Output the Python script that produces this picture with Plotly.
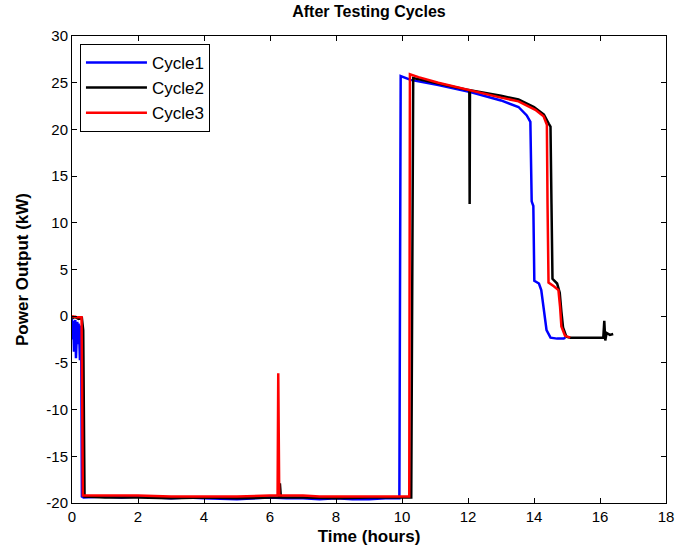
import plotly.graph_objects as go

# Cycle1 (blue)
t1 = [0.0, 0.02, 0.04, 0.06, 0.08, 0.10, 0.12, 0.14, 0.16, 0.18, 0.20, 0.22, 0.24, 0.26, 0.28, 0.30,
      0.35, 1.0, 1.5, 2.0, 2.5, 3.0, 3.5, 4.0, 5.0, 5.5, 6.0, 6.5, 7.0, 7.5, 8.0, 8.5, 9.0, 9.5, 9.92,
      9.96, 10.26, 11.1, 12.07, 13.0, 13.53, 13.78, 13.89, 13.93, 13.98, 14.01, 14.15, 14.22, 14.29,
      14.38, 14.5, 14.7, 14.9, 14.95]
p1 = [-0.3, -2.5, -0.5, -3.8, -1.0, -0.4, -4.5, -1.5, -0.6, -3.0, -0.8, -2.2, -4.7, -1.0, -3.5, -19.3,
      -19.4, -19.3, -19.4, -19.3, -19.4, -19.5, -19.4, -19.5, -19.6, -19.5, -19.4, -19.5, -19.5, -19.6, -19.5, -19.6, -19.6, -19.5, -19.5,
      25.7, 25.3, 24.75, 24.0, 23.1, 22.4, 21.5, 20.8, 12.3, 11.8, 3.8, 3.5, 2.8, 0.7,
      -1.5, -2.3, -2.4, -2.4, -2.3]

# Cycle2 (black)
t2 = [0.0, 0.1, 0.2, 0.3, 0.34, 0.38, 1.0, 2.0, 3.0, 4.0, 5.0, 6.0, 6.27, 6.30, 6.33, 7.0, 8.0, 9.0, 10.0, 10.28,
      10.34, 11.0, 12.0, 12.04, 12.05, 12.06, 13.0, 13.53, 14.0, 14.3, 14.45, 14.5, 14.53, 14.56,
      14.7, 14.78, 14.83, 14.88, 14.98, 15.1, 16.1, 16.13, 16.16, 16.2, 16.3, 16.4]
p2 = [-0.2, -0.1, -0.3, -0.2, -1.5, -19.3, -19.4, -19.4, -19.5, -19.4, -19.5, -19.4, -19.4, -17.9, -19.4, -19.4, -19.5, -19.4, -19.4, -19.4,
      25.5, 25.0, 24.3, 24.2, 12.0, 24.2, 23.6, 23.2, 22.4, 21.6, 20.6, 20.3, 12.0, 4.0,
      3.5, 2.5, 0.5, -1.2, -2.2, -2.3, -2.3, -0.5, -2.6, -1.8, -2.0, -1.9]

# Cycle3 (red)
t3 = [0.0, 0.15, 0.29, 0.31, 0.33, 1.0, 2.0, 3.0, 4.0, 5.0, 6.0, 6.23, 6.25, 6.28, 7.0, 7.5, 8.0, 9.0, 10.22,
      10.24, 10.5, 11.1, 12.02, 13.0, 13.53, 14.04, 14.29, 14.39, 14.41, 14.44, 14.6, 14.74, 14.79,
      14.83, 14.94, 15.1]
p3 = [0.0, -0.1, -0.1, -10.0, -19.2, -19.2, -19.2, -19.3, -19.3, -19.3, -19.2, -19.2, -6.1, -19.2, -19.2, -19.3, -19.3, -19.3, -19.3,
      25.9, 25.6, 25.0, 24.2, 23.4, 23.0, 22.1, 21.4, 20.5, 12.0, 3.6, 3.2, 2.8, 1.0,
      -1.1, -2.1, -2.3]

x_ticks = [0, 2, 4, 6, 8, 10, 12, 14, 16, 18]
y_ticks = [-20, -15, -10, -5, 0, 5, 10, 15, 20, 25, 30]

FONT = "Liberation Sans, Arial, sans-serif"

fig = go.Figure()
fig.add_trace(go.Scatter(x=t1, y=p1, mode="lines", name="Cycle1", line=dict(color="#0000ff", width=2.5)))
fig.add_trace(go.Scatter(x=t2, y=p2, mode="lines", name="Cycle2", line=dict(color="#000000", width=2.5)))
fig.add_trace(go.Scatter(x=t3, y=p3, mode="lines", name="Cycle3", line=dict(color="#ff0000", width=2.5)))

axis_common = dict(showgrid=False, zeroline=False, showline=True, linecolor="black", linewidth=1,
                   mirror="allticks", ticks="inside", ticklen=5, tickcolor="black",
                   ticklabeloverflow="allow", automargin=False,
                   tickfont=dict(family=FONT, size=15, color="black"))

fig.update_layout(
    width=675, height=554,
    margin=dict(l=72, r=9, t=36, b=51),
    plot_bgcolor="white", paper_bgcolor="white",
    title=dict(text="<b>After Testing Cycles</b>", x=0.5, xanchor="center", y=0.99, yanchor="top",
               xref="paper", font=dict(family=FONT, size=16, color="black")),
    xaxis=dict(range=[0, 18], tickvals=x_ticks, ticktext=[str(v) for v in x_ticks],
               title=dict(text="<b>Time (hours)</b>", font=dict(family=FONT, size=17, color="black"), standoff=6),
               **axis_common),
    yaxis=dict(range=[-20, 30], tickvals=y_ticks, ticktext=[str(v) for v in y_ticks],
               title=dict(text="<b>Power Output (kW)</b>", font=dict(family=FONT, size=17, color="black"), standoff=13),
               **axis_common),
    legend=dict(x=0.0134, y=0.983, xanchor="left", yanchor="top", bgcolor="white",
                bordercolor="black", borderwidth=1, font=dict(family=FONT, size=17, color="black"),
                itemwidth=61, tracegroupgap=0),
    showlegend=True,
)

fig.write_html("out.html")
